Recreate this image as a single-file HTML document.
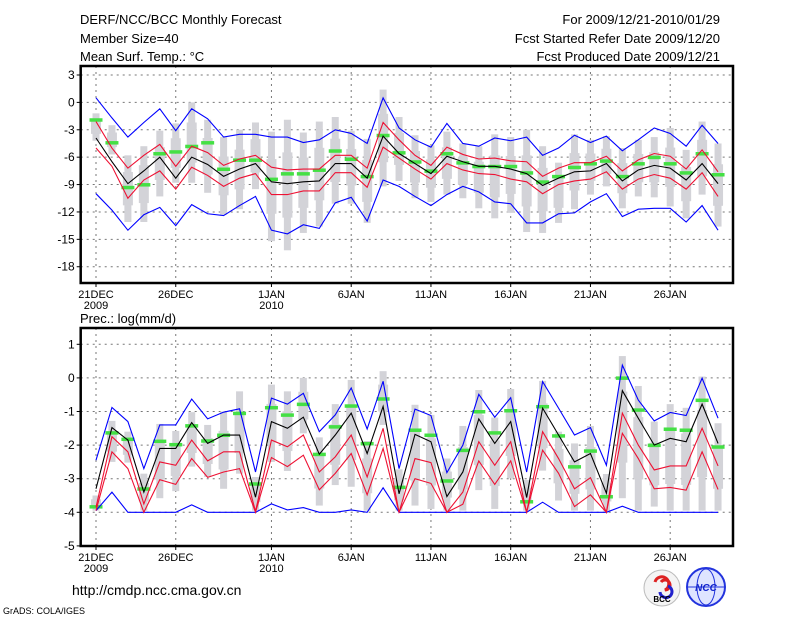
<!DOCTYPE html>
<html><head><meta charset="utf-8"><style>
body{margin:0;background:#fff;width:800px;height:618px;overflow:hidden}
svg{display:block;font-family:"Liberation Sans",sans-serif}
</style></head><body>
<svg id="chart" width="800" height="618" viewBox="0 0 800 618">
<rect width="800" height="618" fill="#fff"/>
<text x="80" y="24" font-size="13">DERF/NCC/BCC Monthly Forecast</text>
<text x="80" y="43" font-size="13">Member Size=40</text>
<text x="80" y="61" font-size="13">Mean Surf. Temp.: °C</text>
<text x="720" y="24" font-size="13" text-anchor="end">For 2009/12/21-2010/01/29</text>
<text x="720" y="43" font-size="13" text-anchor="end">Fcst Started Refer Date 2009/12/20</text>
<text x="720" y="61" font-size="13" text-anchor="end">Fcst Produced Date 2009/12/21</text>
<text x="80" y="323" font-size="13">Prec.: log(mm/d)</text>
<text x="72" y="595" font-size="14">http://cmdp.ncc.cma.gov.cn</text>
<text x="3" y="614" font-size="9">GrADS: COLA/IGES</text>
<g>
<circle cx="662" cy="588" r="18" fill="#f4f4f4" stroke="#bbb"/>
<path d="M655 582 a7 7 0 1 1 10 8 a5 5 0 1 0 -4 -8" fill="none" stroke="#d22" stroke-width="3"/>
<path d="M668 586 a6 6 0 1 1 -8 6" fill="none" stroke="#22c" stroke-width="3"/>
<text x="662" y="602" font-size="8" text-anchor="middle" font-weight="bold">BCC</text>
</g>
<g>
<circle cx="706" cy="587" r="19" fill="#dfe4ff" stroke="#2233dd" stroke-width="2"/>
<ellipse cx="706" cy="587" rx="9" ry="18" fill="none" stroke="#2233dd"/>
<line x1="688" y1="587" x2="724" y2="587" stroke="#2233dd"/>
<text x="706" y="591" font-size="10" text-anchor="middle" font-style="italic" font-weight="bold" fill="#1122cc">NCC</text>
</g>
<g id="top"></g>
<g id="bot"></g>
</svg>
<script>
const days = ['21DEC','26DEC','1JAN','6JAN','11JAN','16JAN','21JAN','26JAN'];
// Temperature panel
const tMean=[-3.9,-6.5,-8.9,-7.5,-6.0,-8.3,-6.0,-6.8,-8.1,-7.3,-6.7,-8.7,-8.9,-8.7,-8.6,-6.7,-6.7,-8.3,-3.7,-5.6,-6.7,-7.8,-5.9,-6.5,-7.0,-7.0,-7.3,-7.8,-9.1,-8.3,-7.6,-7.5,-6.7,-8.6,-7.4,-6.9,-7.2,-8.5,-6.7,-8.9];
const tRedHi=[-2.1,-5.0,-7.2,-5.8,-4.6,-7.0,-4.8,-5.5,-6.9,-6.2,-5.8,-7.1,-7.4,-7.3,-7.3,-5.8,-5.8,-7.2,-2.2,-4.1,-5.8,-6.9,-4.9,-5.7,-6.2,-6.1,-6.4,-6.5,-8.1,-7.2,-6.6,-6.6,-5.9,-7.5,-6.3,-5.6,-5.9,-7.3,-5.2,-7.6];
const tRedLo=[-5.0,-7.0,-10.5,-8.5,-7.5,-9.5,-7.1,-8.0,-9.2,-8.3,-7.8,-10.1,-10.1,-9.7,-9.7,-7.7,-7.7,-9.3,-4.9,-6.1,-7.3,-8.4,-6.7,-7.4,-7.8,-7.9,-8.4,-8.7,-10.0,-9.0,-8.6,-8.4,-7.6,-9.5,-8.4,-7.9,-8.3,-9.5,-7.7,-10.3];
const tMax=[0.5,-1.7,-3.8,-2.2,-0.7,-3.1,-0.7,-1.8,-3.8,-3.5,-3.5,-3.8,-3.8,-4.4,-4.1,-3.0,-3.4,-4.5,0.5,-2.8,-4.1,-4.9,-2.3,-4.5,-4.8,-3.9,-4.2,-3.8,-5.8,-5.0,-3.6,-4.4,-3.7,-5.3,-4.1,-2.8,-3.4,-4.8,-2.5,-4.5];
const tMin=[-10.0,-11.8,-14.0,-12.3,-11.5,-13.5,-11.2,-12.2,-12.4,-11.3,-10.3,-14.0,-14.4,-13.4,-13.8,-11.0,-10.4,-13.0,-8.5,-9.2,-10.3,-11.3,-10.1,-9.2,-9.8,-10.9,-11.1,-13.2,-13.2,-12.2,-12.1,-10.9,-10.0,-12.5,-11.7,-11.6,-11.6,-13.1,-11.3,-14.0];
const tBarTop=[-1.2,-2.5,-5.8,-4.8,-3.1,-2.3,0.0,-1.9,-3.8,-3.0,-2.2,-3.2,-1.9,-3.3,-2.1,-1.6,-3.1,-4.0,1.4,-1.6,-3.6,-4.7,-3.2,-4.5,-4.8,-3.5,-3.8,-3.0,-4.8,-6.6,-3.5,-4.1,-3.7,-5.0,-4.1,-3.8,-2.8,-5.2,-2.1,-4.5];
const tBarBot=[-4.2,-5.7,-13.1,-13.1,-10.3,-8.8,-8.8,-9.9,-12.3,-11.7,-9.5,-15.2,-16.2,-14.3,-13.6,-11.1,-11.1,-13.2,-9.2,-8.6,-10.5,-10.9,-10.1,-10.5,-11.6,-12.7,-12.1,-14.2,-14.3,-13.2,-11.7,-10.1,-9.2,-11.6,-10.3,-10.4,-11.4,-12.7,-10.1,-13.6];
const tObs=[-1.9,-4.4,-9.3,-9.0,-5.6,-5.4,-4.8,-4.4,-7.3,-6.3,-6.3,-8.4,-7.8,-7.8,-7.4,-5.3,-6.2,-8.1,-3.6,-5.5,-6.5,-7.5,-5.6,-6.6,-7.0,-7.0,-7.0,-7.7,-8.7,-8.1,-7.1,-6.7,-6.4,-8.1,-6.7,-6.0,-6.7,-7.7,-5.6,-7.9];
const tTicks=[3,0,-3,-6,-9,-12,-15,-18];
// Precipitation panel
const pMean=[-3.3,-1.48,-1.85,-3.4,-2.1,-2.1,-1.33,-1.95,-1.7,-1.7,-3.55,-1.3,-1.5,-1.17,-2.27,-1.7,-1.05,-2.25,-0.85,-3.45,-1.68,-1.9,-3.53,-2.8,-1.22,-1.95,-1.3,-3.56,-0.9,-1.7,-2.5,-2.25,-3.43,-0.38,-1.2,-2.0,-1.8,-1.9,-0.78,-1.95];
const pRedHi=[-3.85,-1.75,-2.2,-3.75,-2.5,-2.6,-1.85,-2.47,-2.2,-2.2,-3.97,-1.85,-2.05,-1.7,-2.8,-2.35,-1.7,-2.95,-1.5,-4,-2.4,-2.52,-4,-3.4,-1.9,-2.6,-1.9,-4,-1.6,-2.4,-3.3,-2.97,-4,-1.05,-2.0,-2.74,-2.62,-2.62,-1.5,-2.62];
const pRedLo=[-3.95,-2.2,-2.7,-4,-3.03,-3.17,-2.4,-2.96,-2.8,-2.7,-4,-2.37,-2.64,-2.3,-3.33,-2.84,-2.25,-3.48,-2.1,-4,-3.0,-3.14,-4,-3.76,-2.47,-3.17,-2.47,-4,-2.15,-2.84,-3.83,-3.48,-4,-1.65,-2.4,-3.3,-3.26,-3.34,-2.2,-3.32];
const pMax=[-2.45,-0.88,-1.3,-2.7,-1.4,-1.4,-0.63,-1.22,-1.02,-0.92,-2.8,-0.6,-0.78,-0.46,-1.6,-1.1,-0.3,-1.52,-0.1,-2.7,-0.93,-1.12,-2.82,-2.0,-0.49,-1.17,-0.59,-2.8,-0.11,-0.9,-1.7,-1.48,-2.6,0.38,-0.66,-1.28,-1.03,-1.12,-0.01,-1.2];
const pMin=[-3.95,-3.4,-4,-4,-4,-4,-3.78,-4,-4,-4,-4,-3.75,-3.93,-3.86,-4,-4,-3.93,-4,-3.27,-4,-4,-4,-4,-4,-4,-4,-4,-4,-3.7,-4,-4,-4,-4,-3.82,-4,-4,-4,-4,-4,-4];
const pBarTop=[-3.5,-1.28,-1.6,-2.85,-1.37,-1.58,-1.02,-1.4,-1.0,-0.4,-2.95,-0.2,-0.4,0.0,-1.77,-0.78,-0.06,-1.88,0.2,-2.72,-0.8,-1.1,-2.4,-1.43,-0.36,-1.18,-0.33,-3.04,-0.09,-1.6,-1.95,-1.43,-2.86,0.65,-0.24,-1.3,-0.78,-0.89,0.04,-1.35];
const pBarBot=[-3.95,-2.5,-2.52,-3.95,-3.58,-3.37,-2.64,-2.95,-3.3,-2.85,-3.95,-2.5,-2.77,-1.65,-3.8,-3.19,-3.24,-3.95,-1.4,-3.95,-3.8,-3.9,-3.95,-3.95,-3.34,-3.9,-2.99,-3.95,-2.76,-3.65,-3.95,-3.95,-3.95,-3.58,-3.95,-3.83,-3.95,-3.95,-3.95,-3.95];
const pObs=[-3.83,-1.63,-1.82,-3.3,-1.88,-1.98,-1.42,-1.87,-1.7,-1.05,-3.15,-0.88,-1.1,-0.78,-2.27,-1.45,-0.83,-1.95,-0.62,-3.25,-1.55,-1.7,-3.06,-2.15,-1.0,-1.63,-0.97,-3.68,-0.85,-1.72,-2.64,-2.17,-3.53,0.0,-0.95,-2.0,-1.52,-1.55,-0.66,-2.05];
const pTicks=[1,0,-1,-2,-3,-4,-5];

const NS='http://www.w3.org/2000/svg';
function mk(parent,tag,attrs){const e=document.createElementNS(NS,tag);for(const k in attrs)e.setAttribute(k,attrs[k]);parent.appendChild(e);return e;}
const xOf=d=>96+d*15.95;
const X0=80.7,X1=733;

function panel(g,top,bottom,yOf,ticks,series,yearY,name){
  const [mean,rh,rl,mx,mn,bt,bb,obs]=series;
  // grid
  ticks.forEach(t=>{const y=yOf(t);
    if(y>top+1&&y<bottom-1){const l=mk(g,'line',{x1:X0,x2:X1,y1:y,y2:y,stroke:'#777','stroke-dasharray':'2,4','stroke-width':1});
    
    }
    const tk=mk(g,'line',{x1:X0-4,x2:X0,y1:y,y2:y,stroke:'#000'});
    
    
    const tx=mk(g,'text',{x:X0-6,y:y+4,'font-size':12,'text-anchor':'end'});tx.textContent=t;
    
    
  });
  days.forEach((lab,i)=>{const x=xOf(i*5+(i>=2?1:0));
    const l=mk(g,'line',{x1:x,x2:x,y1:top,y2:bottom,stroke:'#777','stroke-dasharray':'2,4'});
    
    
    const tk=mk(g,'line',{x1:x,x2:x,y1:bottom,y2:bottom+4,stroke:'#000'});
    
    
    const tx=mk(g,'text',{x:x,y:bottom+15,'font-size':11,'text-anchor':'middle'});tx.textContent=lab;
    
    
  });
  [[0,'2009'],[11,'2010']].forEach(([d,t])=>{const tx=mk(g,'text',{x:xOf(d),y:bottom+26,'font-size':11,'text-anchor':'middle'});tx.textContent=t;
    
    });
  // bars
  bt.forEach((v,i)=>{const y1=yOf(v),y2=yOf(bb[i]);
    const r=mk(g,'rect',{x:xOf(i)-3.5,y:y1,width:7,height:y2-y1,fill:'#d3d3d8'});
    
    
    const q1=yOf(v+(bb[i]-v)*0.25),q3=yOf(v+(bb[i]-v)*0.75);
    const b=mk(g,'rect',{x:xOf(i)-5,y:q1,width:10,height:q3-q1,fill:'#d3d3d8'});
    
    
  });
  obs.forEach((v,i)=>{const r=mk(g,'rect',{x:xOf(i)-6.5,y:yOf(v)-1.5,width:13,height:3.5,fill:'#44e044'});
    
    });
  const line=(arr,col,nm)=>{const p=mk(g,'polyline',{points:arr.map((v,i)=>xOf(i)+','+yOf(v)).join(' '),fill:'none',stroke:col,'stroke-width':1.1});
    
    };
  line(mx,'#0000ff','max-line');line(mn,'#0000ff','min-line');
  line(rh,'#ee1133','upper-spread-line');line(rl,'#ee1133','lower-spread-line');
  line(mean,'#000','ensemble-mean-line');
  const fr=mk(g,'rect',{x:X0,y:top,width:X1-X0,height:bottom-top,fill:'none',stroke:'#000','stroke-width':2.5});
  
  
}
const gt=document.getElementById('top');


panel(gt,66,283,v=>75+(3-v)*9.13,tTicks,[tMean,tRedHi,tRedLo,tMax,tMin,tBarTop,tBarBot,tObs],0,'temperature');
const gb=document.getElementById('bot');


panel(gb,328,546,v=>344.3+(1-v)*33.6,pTicks,[pMean,pRedHi,pRedLo,pMax,pMin,pBarTop,pBarBot,pObs],0,'precipitation');
</script>
</body></html>
